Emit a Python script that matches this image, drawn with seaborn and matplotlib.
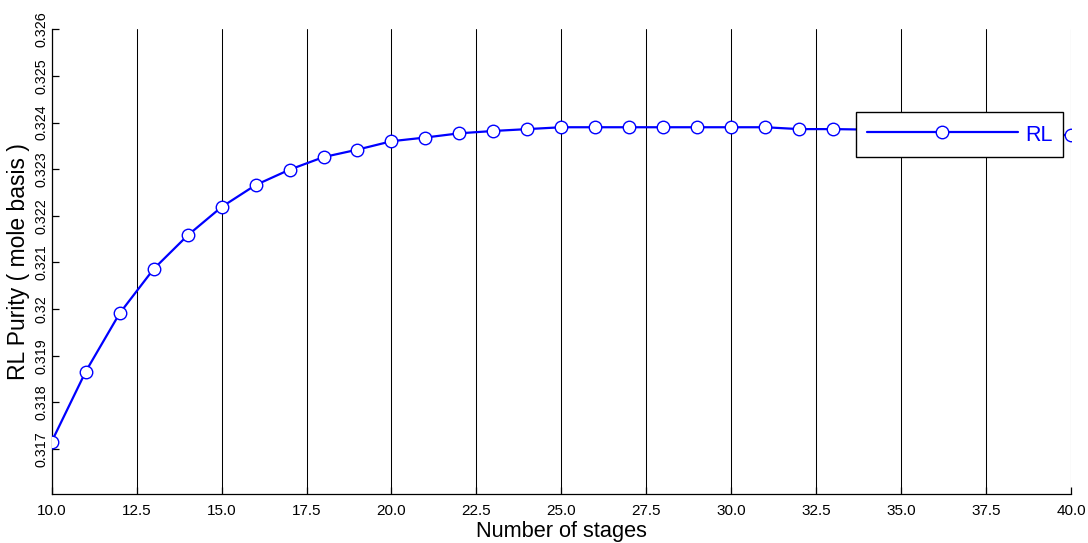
import matplotlib
matplotlib.use("Agg")
import matplotlib.pyplot as plt
import seaborn as sns
import pandas as pd
from matplotlib.ticker import FormatStrFormatter, FuncFormatter

stages = [10, 11, 12, 13, 14, 15, 16, 17, 18, 19, 20, 21, 22, 23, 24, 25, 26,
          27, 28, 29, 30, 31, 32, 33, 34, 35, 36, 37, 38, 39, 40]
purity = [0.31716, 0.31866, 0.31991, 0.32086, 0.32158, 0.32219, 0.32266,
          0.32299, 0.32326, 0.32342, 0.32360, 0.32368, 0.32377, 0.32382,
          0.32386, 0.32390, 0.32390, 0.32390, 0.32390, 0.32390, 0.32390,
          0.32390, 0.32386, 0.32386, 0.32385, 0.32383, 0.32381, 0.32379,
          0.32377, 0.32375, 0.32373]
xticks = [10.0, 12.5, 15.0, 17.5, 20.0, 22.5, 25.0, 27.5, 30.0, 32.5, 35.0, 37.5, 40.0]
yticks = [0.317, 0.318, 0.319, 0.320, 0.321, 0.322, 0.323, 0.324, 0.325, 0.326]
series_name = "RL"

sns.set_style("white")
plt.rcParams['font.family'] = ['Liberation Sans', 'DejaVu Sans']
plt.rcParams['text.color'] = 'black'
plt.rcParams['axes.labelcolor'] = 'black'

df = pd.DataFrame({"Stages": stages, "Purity": purity})

fig = plt.figure(figsize=(10.88, 5.43), dpi=100)
ax = fig.add_axes([51.7/1088, 48.7/543, 1019.3/1088, 465/543])

sns.lineplot(data=df, x="Stages", y="Purity", ax=ax, color="blue",
             marker="o", markersize=9, markerfacecolor="white",
             markeredgecolor="blue", markeredgewidth=1.0, linewidth=1.6,
             label=series_name, zorder=3)

ax.set_xlim(10, 40)
ax.set_ylim(0.31603, 0.326)
ax.set_xticks(xticks)
ax.set_yticks(yticks)
ax.xaxis.set_major_formatter(FormatStrFormatter('%.1f'))
ax.yaxis.set_major_formatter(FuncFormatter(lambda v, p: f"{v:g}"))
ax.grid(True, axis='x', color='black', linewidth=0.75)
ax.grid(False, axis='y')
for s in ['top', 'right']:
    ax.spines[s].set_visible(False)
for s in ['left', 'bottom']:
    ax.spines[s].set_color('black')
    ax.spines[s].set_linewidth(0.9)
ax.tick_params(axis='both', direction='in', length=4.8, width=0.9, colors='black',
               left=True, bottom=True)
ax.tick_params(axis='x', labelsize=11, pad=7)
ax.tick_params(axis='y', labelsize=10.3, pad=2.5)
for lab in ax.get_yticklabels():
    lab.set_rotation(90)
    lab.set_va('center')
ax.set_xlabel("Number of stages", fontsize=15.7, labelpad=2, color='black')
ax.set_ylabel("RL Purity ( mole basis )", fontsize=16.5, labelpad=3, color='black')

leg = ax.legend(loc='upper right', bbox_to_anchor=(0.9925, 0.8215),
                borderaxespad=0, fontsize=15.5, labelcolor='blue',
                handlelength=7.0, handleheight=1.15, handletextpad=0.35,
                fancybox=False, framealpha=1, edgecolor='black', borderpad=0.5)
leg.get_frame().set_linewidth(1.0)
leg.set_zorder(5)

fig.savefig("out.png", dpi=100)
